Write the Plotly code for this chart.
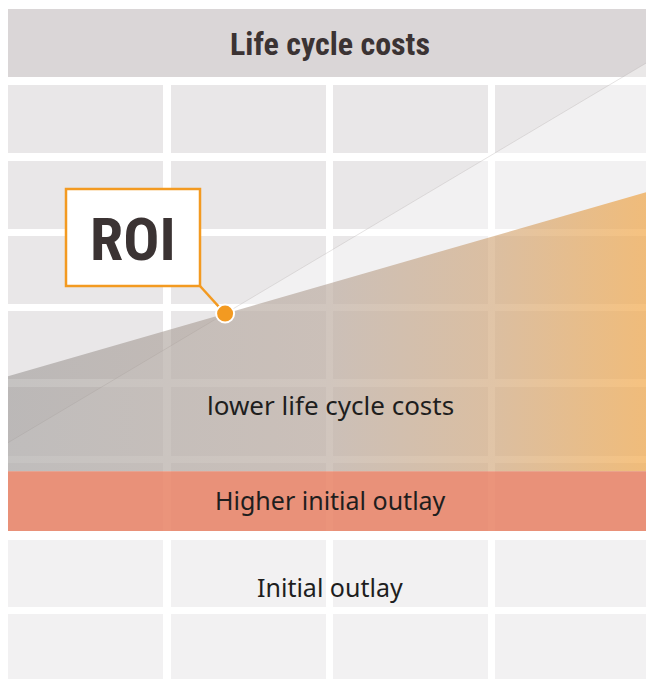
import numpy as np
import plotly.graph_objects as go

# ---------------- data (conceptual life-cycle chart) ----------------
years = [0, 10]                         # start / end of the life cycle
conventional_costs = [34.8, 90.7]       # cost line of the conventional solution
lower_lifecycle_costs = [44.6, 71.7]    # cost line of the better solution
initial_outlay = 21.8                   # level of the initial outlay
higher_initial_outlay = 30.6            # level of the higher initial outlay

title_text = "Life cycle costs"
roi_text = "ROI"
label_lower = "lower life cycle costs"
label_higher = "Higher initial outlay"
label_initial = "Initial outlay"

# ---------------- layout geometry ----------------
W, H = 646, 679
PX_X0, PX_X1 = 8, 646          # pixel position of year 0 / year 10
PX_PER_COST = H / 100.0        # cost axis: 0..100 over the full height

x_per_px = (years[1] - years[0]) / (PX_X1 - PX_X0)
x_range = [years[0] - PX_X0 * x_per_px, years[0] + (W - PX_X0) * x_per_px]
y_range = [0, 100]


def px_to_x(px):
    return years[0] + (px - PX_X0) * x_per_px


def py_to_y(py):
    return (H - py) / PX_PER_COST


def pxp(px):
    return px / W


def pyp(py):
    return 1 - py / H


fig = go.Figure()

# background: header + grid cells
shapes = []
shapes.append(dict(type="rect", xref="paper", yref="paper",
                   x0=pxp(8), x1=pxp(W), y0=pyp(77), y1=pyp(9),
                   fillcolor="#dad6d7", line_width=0, layer="below"))
col_edges = [(8, 163), (171, 326), (333, 488), (495, W)]
row_edges = [(85, 153), (161, 229), (236, 304), (311, 379), (387, 456),
             (463, 531), (540, 607), (614, H)]
for (c0, c1) in col_edges:
    for (r0, r1) in row_edges:
        shapes.append(dict(type="rect", xref="paper", yref="paper",
                           x0=pxp(c0), x1=pxp(c1), y0=pyp(r1), y1=pyp(r0),
                           fillcolor="#e9e7e8", line_width=0, layer="below"))

# light area under the conventional cost line
fig.add_trace(go.Scatter(
    x=[years[0], years[1], years[1], years[0]],
    y=[conventional_costs[0], conventional_costs[1], 0, 0],
    fill="toself", fillcolor="rgba(255,255,255,0.43)",
    mode="lines", line=dict(width=0), hoverinfo="skip", showlegend=False))
fig.add_trace(go.Scatter(
    x=years, y=conventional_costs, mode="lines",
    line=dict(color="rgba(190,186,186,0.4)", width=1),
    hoverinfo="skip", showlegend=False))

# lower life cycle cost area with gradient
fig.add_trace(go.Scatter(
    x=[years[0], years[1], years[1], years[0]],
    y=[lower_lifecycle_costs[0], lower_lifecycle_costs[1],
       higher_initial_outlay, higher_initial_outlay],
    fill="toself",
    fillgradient=dict(type="horizontal", colorscale=[
        [0.0, "rgba(150,146,144,0.55)"],
        [0.5, "rgba(171,151,137,0.55)"],
        [0.76, "rgba(200,149,95,0.55)"],
        [1.0, "rgba(238,144,24,0.55)"]]),
    mode="lines", line=dict(width=0), hoverinfo="skip", showlegend=False))

# higher initial outlay band
fig.add_trace(go.Scatter(
    x=[years[0], years[1], years[1], years[0]],
    y=[higher_initial_outlay, higher_initial_outlay, initial_outlay, initial_outlay],
    fill="toself", fillcolor="rgba(230,121,90,0.8)",
    mode="lines", line=dict(width=0), hoverinfo="skip", showlegend=False))

# ROI point: intersection of the two cost lines
s_conv = (conventional_costs[1] - conventional_costs[0]) / (years[1] - years[0])
s_low = (lower_lifecycle_costs[1] - lower_lifecycle_costs[0]) / (years[1] - years[0])
roi_x = (lower_lifecycle_costs[0] - conventional_costs[0]) / (s_conv - s_low)
roi_y = conventional_costs[0] + s_conv * roi_x

# ROI callout box
BOX = (66, 189, 200, 286)
shapes.append(dict(type="rect", xref="paper", yref="paper",
                   x0=pxp(BOX[0]), x1=pxp(BOX[2]), y0=pyp(BOX[3]), y1=pyp(BOX[1]),
                   fillcolor="white", line=dict(color="#f39a21", width=2.5),
                   layer="above"))

fig.add_trace(go.Scatter(
    x=[px_to_x(BOX[2]), roi_x], y=[py_to_y(BOX[3]), roi_y], mode="lines",
    line=dict(color="#f39a21", width=2.5), hoverinfo="skip", showlegend=False))
fig.add_trace(go.Scatter(
    x=[roi_x], y=[roi_y], mode="markers",
    marker=dict(size=18, color="#f39a21", line=dict(color="white", width=2)),
    hoverinfo="skip", showlegend=False))

label_font = "Noto Sans, Open Sans, sans-serif"
cond_font = "Roboto Condensed, Liberation Sans Narrow, Arial Narrow, DejaVu Sans Condensed, sans-serif"
annotations = [
    dict(text=title_text, x=pxp(330), y=pyp(44),
         font=dict(family=cond_font, size=32, color="#3b3333", weight="bold")),
    dict(text=roi_text, x=pxp(133), y=pyp(239),
         font=dict(family=cond_font, size=60, color="#3b3333", weight="bold")),
    dict(text=label_lower, x=pxp(330), y=pyp(405),
         font=dict(family=label_font, size=26, color="#1e1e1e")),
    dict(text=label_higher, x=pxp(330), y=pyp(500),
         font=dict(family=label_font, size=25, color="#1e1e1e")),
    dict(text=label_initial, x=pxp(330), y=pyp(587),
         font=dict(family=label_font, size=25, color="#1e1e1e")),
]
for a in annotations:
    a.update(xref="paper", yref="paper", showarrow=False,
             xanchor="center", yanchor="middle")

fig.update_layout(
    width=W, height=H, margin=dict(l=0, r=0, t=0, b=0),
    paper_bgcolor="white", plot_bgcolor="white",
    xaxis=dict(range=x_range, visible=False, fixedrange=True),
    yaxis=dict(range=y_range, visible=False, fixedrange=True),
    shapes=shapes, annotations=annotations, showlegend=False,
)

# remove the browser's default page margin so the figure fills the window
fig.write_html("out.html", config={"displayModeBar": False},
               post_script="document.body.style.margin='0';")
